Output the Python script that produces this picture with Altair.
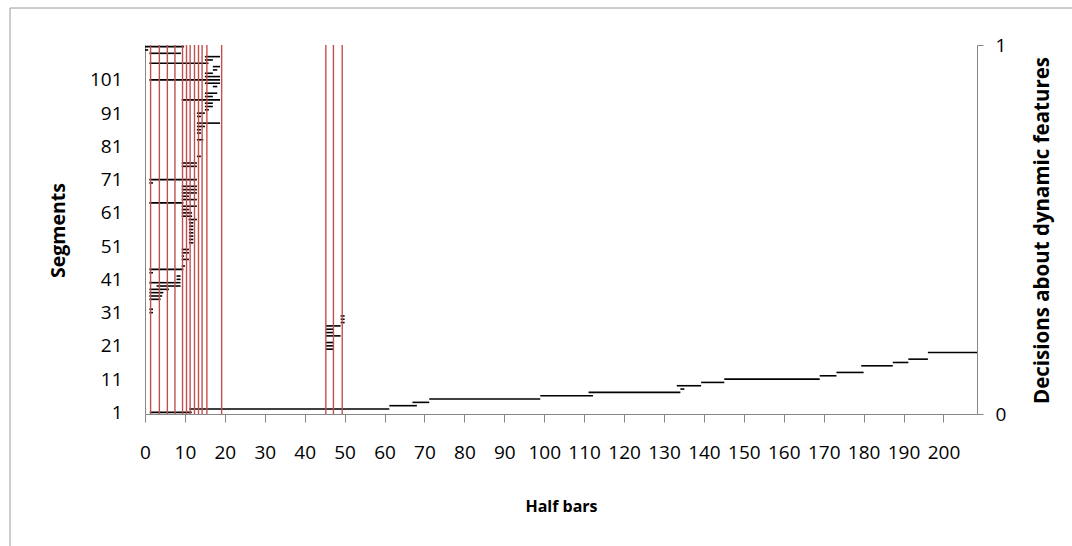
import altair as alt
import pandas as pd

# ---- data ----
seg_id = [1, 2, 3, 4, 5, 6, 7, 8, 9, 10, 11, 12, 13, 15, 16, 17, 19,
          20, 21, 22, 24, 25, 26, 27, 28, 29, 30,
          31, 32, 35, 36, 37, 38, 39, 40, 41, 42, 43, 44, 45, 47, 48, 49, 50,
          52, 53, 54, 55, 56, 57, 58, 59, 60, 61, 62, 63, 64, 65, 66, 67, 68, 69,
          70, 71, 75, 76, 78, 83, 85, 86, 87, 88, 90, 91, 92, 93, 94, 95, 96, 97, 99,
          100, 101, 102, 103, 104, 105, 106, 107, 108, 109, 110, 111]
seg_start = [1.2, 11.1, 61.2, 67.0, 71.2, 99.0, 111.1, 134.1, 133.2, 139.3, 145.1, 169.0, 173.2, 179.4, 187.3, 191.2, 196.1,
             45.3, 45.3, 45.3, 45.3, 45.3, 45.3, 45.3, 49.0, 49.0, 49.0,
             1.1, 1.1, 1.1, 1.1, 1.1, 1.1, 2.9, 1.1, 7.9, 7.9, 1.1, 1.1, 9.2, 9.2, 9.2, 9.2, 9.2,
             11.0, 11.0, 11.0, 11.0, 11.0, 11.0, 11.0, 10.9, 9.2, 9.2, 9.2, 9.2, 1.1, 9.2, 9.2, 9.2, 9.2, 9.2,
             1.1, 1.1, 9.2, 9.2, 13.0, 13.0, 13.0, 13.0, 13.0, 13.0, 13.0, 13.0, 15.0, 15.0, 15.0, 9.2, 15.0, 15.0, 17.0,
             15.0, 1.1, 15.0, 15.0, 17.0, 17.0, 1.1, 15.0, 15.0, 1.1, 0.0, 0.0]
seg_end = [11.7, 61.2, 68.1, 71.2, 99.0, 112.2, 134.1, 135.1, 139.3, 145.1, 169.0, 173.2, 180.0, 187.3, 191.2, 196.1, 208.4,
           47.2, 47.2, 47.2, 49.0, 47.2, 47.2, 49.0, 50.0, 50.0, 50.0,
           2.0, 2.0, 3.9, 4.3, 4.6, 6.0, 8.9, 8.9, 8.9, 8.9, 2.0, 9.6, 10.0, 11.0, 9.8, 11.0, 11.0,
           12.1, 12.1, 12.1, 12.1, 12.1, 12.1, 12.1, 13.0, 11.8, 11.8, 11.0, 13.0, 9.6, 13.0, 11.0, 13.0, 13.0, 13.0,
           2.0, 13.0, 13.0, 13.0, 14.0, 14.6, 14.0, 14.0, 15.0, 18.8, 14.0, 15.0, 16.0, 17.0, 17.0, 18.8, 17.0, 18.1, 18.1,
           18.8, 18.8, 18.8, 17.0, 18.1, 18.8, 15.9, 17.0, 18.8, 9.0, 0.8, 9.8]

decision_x = [1.4, 3.6, 5.6, 7.5, 9.4, 10.4, 11.3, 12.4, 13.4, 14.3, 15.5, 19.2, 45.3, 47.2, 49.4]
decision_val = [1] * len(decision_x)

x_ticks = list(range(0, 201, 10))
y_ticks = list(range(1, 102, 10))

segs = pd.DataFrame({"segment": seg_id, "start": seg_start, "end": seg_end})
dec = pd.DataFrame({"halfbar": decision_x, "decision": decision_val})

FONT = "Open Sans"
AX = "#868686"
LBL = 19

x_scale = alt.Scale(domain=[0, 208.4], nice=False, zero=False)
x_axis = alt.Axis(values=x_ticks, title="Half bars", grid=False, domainColor=AX,
                  tickColor=AX, tickSize=8, labelPadding=21, labelFontSize=LBL,
                  labelFont=FONT, labelColor="black", titleFont=FONT, titleFontSize=16,
                  titleFontWeight="bold", titleColor="black", titlePadding=36,
                  labelFlush=False, labelOverlap=False)

black = alt.Chart(segs).mark_rule(color="black", strokeWidth=1.6).encode(
    x=alt.X("start:Q", scale=x_scale, axis=x_axis),
    x2="end:Q",
    y=alt.Y("segment:Q", scale=alt.Scale(domain=[0.5, 111.5], nice=False, zero=False),
            axis=alt.Axis(orient="left", values=y_ticks, title="Segments", grid=False,
                          ticks=True, tickSize=0, tickColor="transparent", domainColor=AX,
                          labelPadding=23, labelFontSize=LBL,
                          labelFont=FONT, labelColor="black", titleFont=FONT,
                          titleFontSize=19.5, titleFontWeight="bold", titleColor="black",
                          titleX=-87, titleY=185, titleBaseline="middle",
                          titleAlign="center", titleAngle=270, labelOverlap=False)),
)

red = alt.Chart(dec).mark_rule(color="#C0504D", strokeWidth=1.4).encode(
    x=alt.X("halfbar:Q", scale=x_scale, axis=x_axis),
    y=alt.Y("decision:Q", scale=alt.Scale(domain=[0, 1], nice=False),
            axis=alt.Axis(orient="right", values=[0, 1], format="d",
                          title="Decisions about dynamic features",
                          grid=False, domainColor=AX, tickColor=AX, tickSize=6,
                          labelPadding=12, labelFontSize=LBL, labelFont=FONT,
                          labelColor="black", titleFont=FONT, titleFontSize=20.5,
                          titleFontWeight="bold", titleColor="black", titleAngle=270,
                          titleX=65, titleY=185, titleBaseline="middle",
                          titleAlign="center", labelFlush=False)),
    y2=alt.datum(0),
)

frame_df = pd.DataFrame({"k": [0]})
frame_left = alt.Chart(frame_df).mark_rule(color="#9a9a9a", strokeWidth=1).encode(
    x=alt.value(-135), y=alt.value(-37), y2=alt.value(501))
frame_top = alt.Chart(frame_df).mark_rule(color="#9a9a9a", strokeWidth=1).encode(
    x=alt.value(-135), x2=alt.value(927), y=alt.value(-37))

chart = alt.layer(black, red, frame_left, frame_top).resolve_scale(y="independent").properties(
    width=832, height=369,
    autosize=alt.AutoSizeParams(type="none"),
    padding={"left": 145, "top": 45, "right": 95, "bottom": 132},
    background="white",
).configure_view(stroke=None)

chart.save("out.html", embed_options={"renderer": "svg", "actions": False})
